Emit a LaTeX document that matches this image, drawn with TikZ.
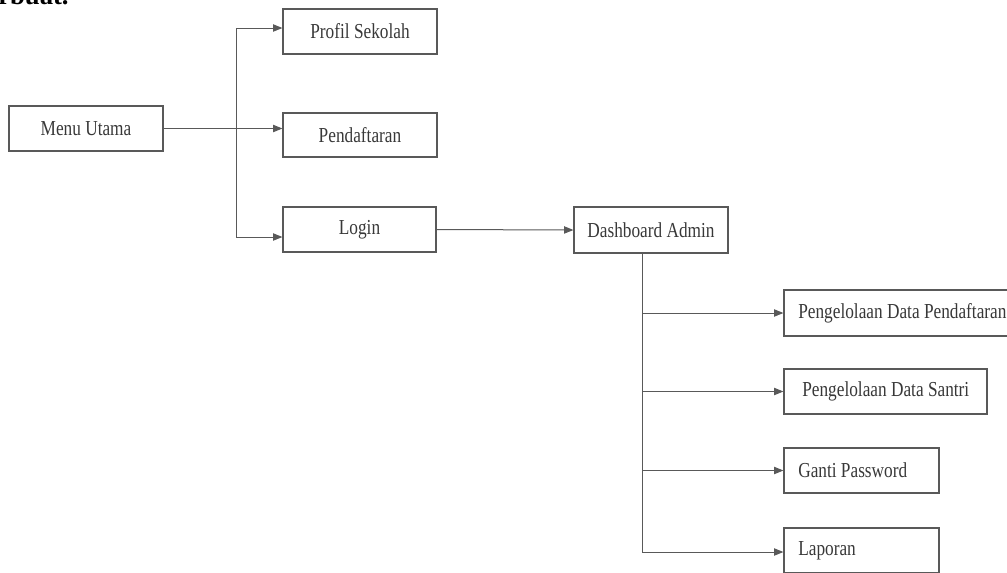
\documentclass[tikz,border=0pt]{standalone}
\usepackage{fontspec}
\setmainfont{Liberation Serif}[FakeStretch=0.81]
\newfontfamily\bodyfont{Liberation Serif}
\usetikzlibrary{arrows.meta}
\definecolor{edge}{gray}{0.35}
\definecolor{ink}{gray}{0.22}
\tikzset{
  menubox/.style={draw=edge, line width=0.9pt, inner sep=0pt, text=ink,
    font=\fontsize{16pt}{19pt}\selectfont},
  link/.style={draw=edge, line width=0.75pt,
    -{Triangle[length=7pt,width=5.5pt]}},
  trunk/.style={draw=edge, line width=0.75pt},
  lbl/.style={text=ink, inner sep=0pt, font=\fontsize{16pt}{19pt}\selectfont}
}
\begin{document}
\begin{tikzpicture}[x=0.75pt,y=-0.75pt]
\useasboundingbox (0,0) rectangle (1007,572);
\clip (0,0) rectangle (1007,572);

% tail of the sentence above the chart
\node[anchor=base west, inner sep=0pt, font=\bodyfont\bfseries\fontsize{20pt}{24pt}\selectfont]
  (tail) at (-2,4) {rbuat.};

% first level
\node[menubox, minimum width=115.5pt, minimum height=33.75pt] (menu) at (86,128.5) {Menu Utama};
\node[menubox, minimum width=115.5pt, minimum height=33.75pt] (profil) at (360,31.5) {Profil Sekolah};
\node[menubox, minimum width=115.5pt, minimum height=33pt] (daftar) at (360,135) {Pendaftaran};
\node[menubox, minimum width=114.75pt, minimum height=33.75pt] (login) at (359.5,229.5) {Login};
\node[menubox, minimum width=115.5pt, minimum height=34.5pt] (dash) at (651,230) {Dashboard Admin};

% admin pages
\node[menubox, minimum width=177pt, minimum height=34.5pt] (pdp) at (902,313) {};
\node[lbl, anchor=west] (pdpt) at (798,313) {Pengelolaan Data Pendaftaran};
\node[menubox, minimum width=152.25pt, minimum height=33.75pt] (pds) at (885.5,391.5) {};
\node[lbl, anchor=west] (pdst) at (802,391.5) {Pengelolaan Data Santri};
\node[menubox, minimum width=116.25pt, minimum height=33.75pt] (ganti) at (861.5,470.5) {};
\node[lbl, anchor=west] (gantit) at (798,470.5) {Ganti Password};
\node[menubox, minimum width=116.25pt, minimum height=33.75pt] (lap) at (861.5,550.5) {};
\node[lbl, anchor=west] (lapt) at (798,550.5) {Laporan};

% main menu branches
\coordinate (j1) at (236,28);
\coordinate (j2) at (236,237);
\draw[trunk] (j1) -- (j2);
\draw[link] (menu.east) -- (daftar.west |- menu.east);
\draw[link] (j1) -- (profil.west |- j1);
\draw[link] (j2) -- (login.west |- j2);
\draw[link] (login.east) -- (dash.west);

% dashboard branches
\coordinate (t0) at (642,253);
\coordinate (t4) at (642,552);
\draw[trunk] (t0) -- (t4);
\draw[link] (t0 |- pdp) -- (pdp.west);
\draw[link] (t0 |- pds) -- (pds.west);
\draw[link] (t0 |- ganti) -- (ganti.west);
\draw[link] (t4) -- (lap.west |- t4);
\end{tikzpicture}
\end{document}
